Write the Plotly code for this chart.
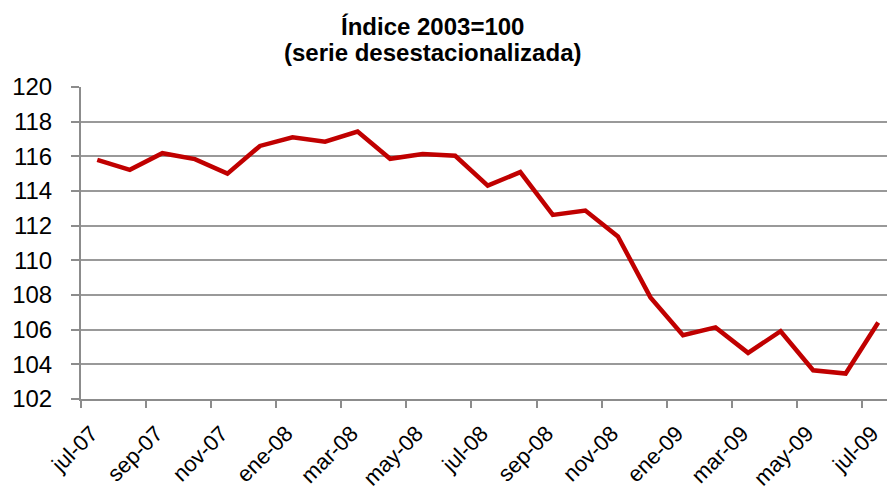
import plotly.graph_objects as go

months = ["jul-07", "ago-07", "sep-07", "oct-07", "nov-07", "dic-07",
          "ene-08", "feb-08", "mar-08", "abr-08", "may-08", "jun-08",
          "jul-08", "ago-08", "sep-08", "oct-08", "nov-08", "dic-08",
          "ene-09", "feb-09", "mar-09", "abr-09", "may-09", "jun-09", "jul-09"]
values = [115.8, 115.22, 116.18, 115.84, 115.0, 116.6,
          117.1, 116.84, 117.43, 115.86, 116.14, 116.03,
          114.31, 115.09, 112.62, 112.87, 111.38, 107.86,
          105.68, 106.13, 104.66, 105.91, 103.66, 103.47, 106.41]
label_months = months[::2]
y_ticks = list(range(102, 121, 2))
title_lines = ["Índice 2003=100", "(serie desestacionalizada)"]

FONT = "Liberation Sans, Arial, sans-serif"

fig = go.Figure()
fig.add_trace(go.Scatter(x=months, y=values, mode="lines",
                         line=dict(color="#C00000", width=4.5), showlegend=False))

for i, (txt, yc) in enumerate(zip(title_lines, [26, 53])):
    fig.add_annotation(text="<b>%s</b>" % txt, xref="paper", yref="paper",
                       x=(432 - 81) / 806, y=1 + (87 - yc) / 312,
                       xanchor="center", yanchor="middle", showarrow=False,
                       font=dict(size=24, family=FONT, color="black"))

fig.update_layout(
    width=887, height=492,
    margin=dict(l=81, r=0, t=87, b=93),
    paper_bgcolor="white", plot_bgcolor="white",
    font=dict(family=FONT, color="black"),
    xaxis=dict(type="category", categoryorder="array", categoryarray=months,
               range=[-0.5, 24.27], tickmode="array", tickvals=label_months,
               ticktext=label_months, tickson="boundaries", ticks="outside",
               ticklen=7, tickcolor="#8c8c8c", tickwidth=1.5, tickangle=-45,
               ticklabelstandoff=11, ticklabelshift=-6, automargin=False,
               showgrid=False, showline=True, linecolor="#8c8c8c", linewidth=2,
               tickfont=dict(size=22, color="black")),
    yaxis=dict(range=[102, 120], tickmode="array", tickvals=y_ticks,
               ticks="outside", ticklen=8, tickcolor="#8c8c8c", tickwidth=1.5,
               ticklabelstandoff=14, automargin=False,
               showgrid=True, gridcolor="#999999", gridwidth=2,
               showline=True, linecolor="#8c8c8c", linewidth=2,
               zeroline=False, tickfont=dict(size=24, color="black")),
)

fig.write_html("out.html", config={"displayModeBar": False},
               post_script="document.body.style.margin='0px';document.body.style.overflow='hidden';")
